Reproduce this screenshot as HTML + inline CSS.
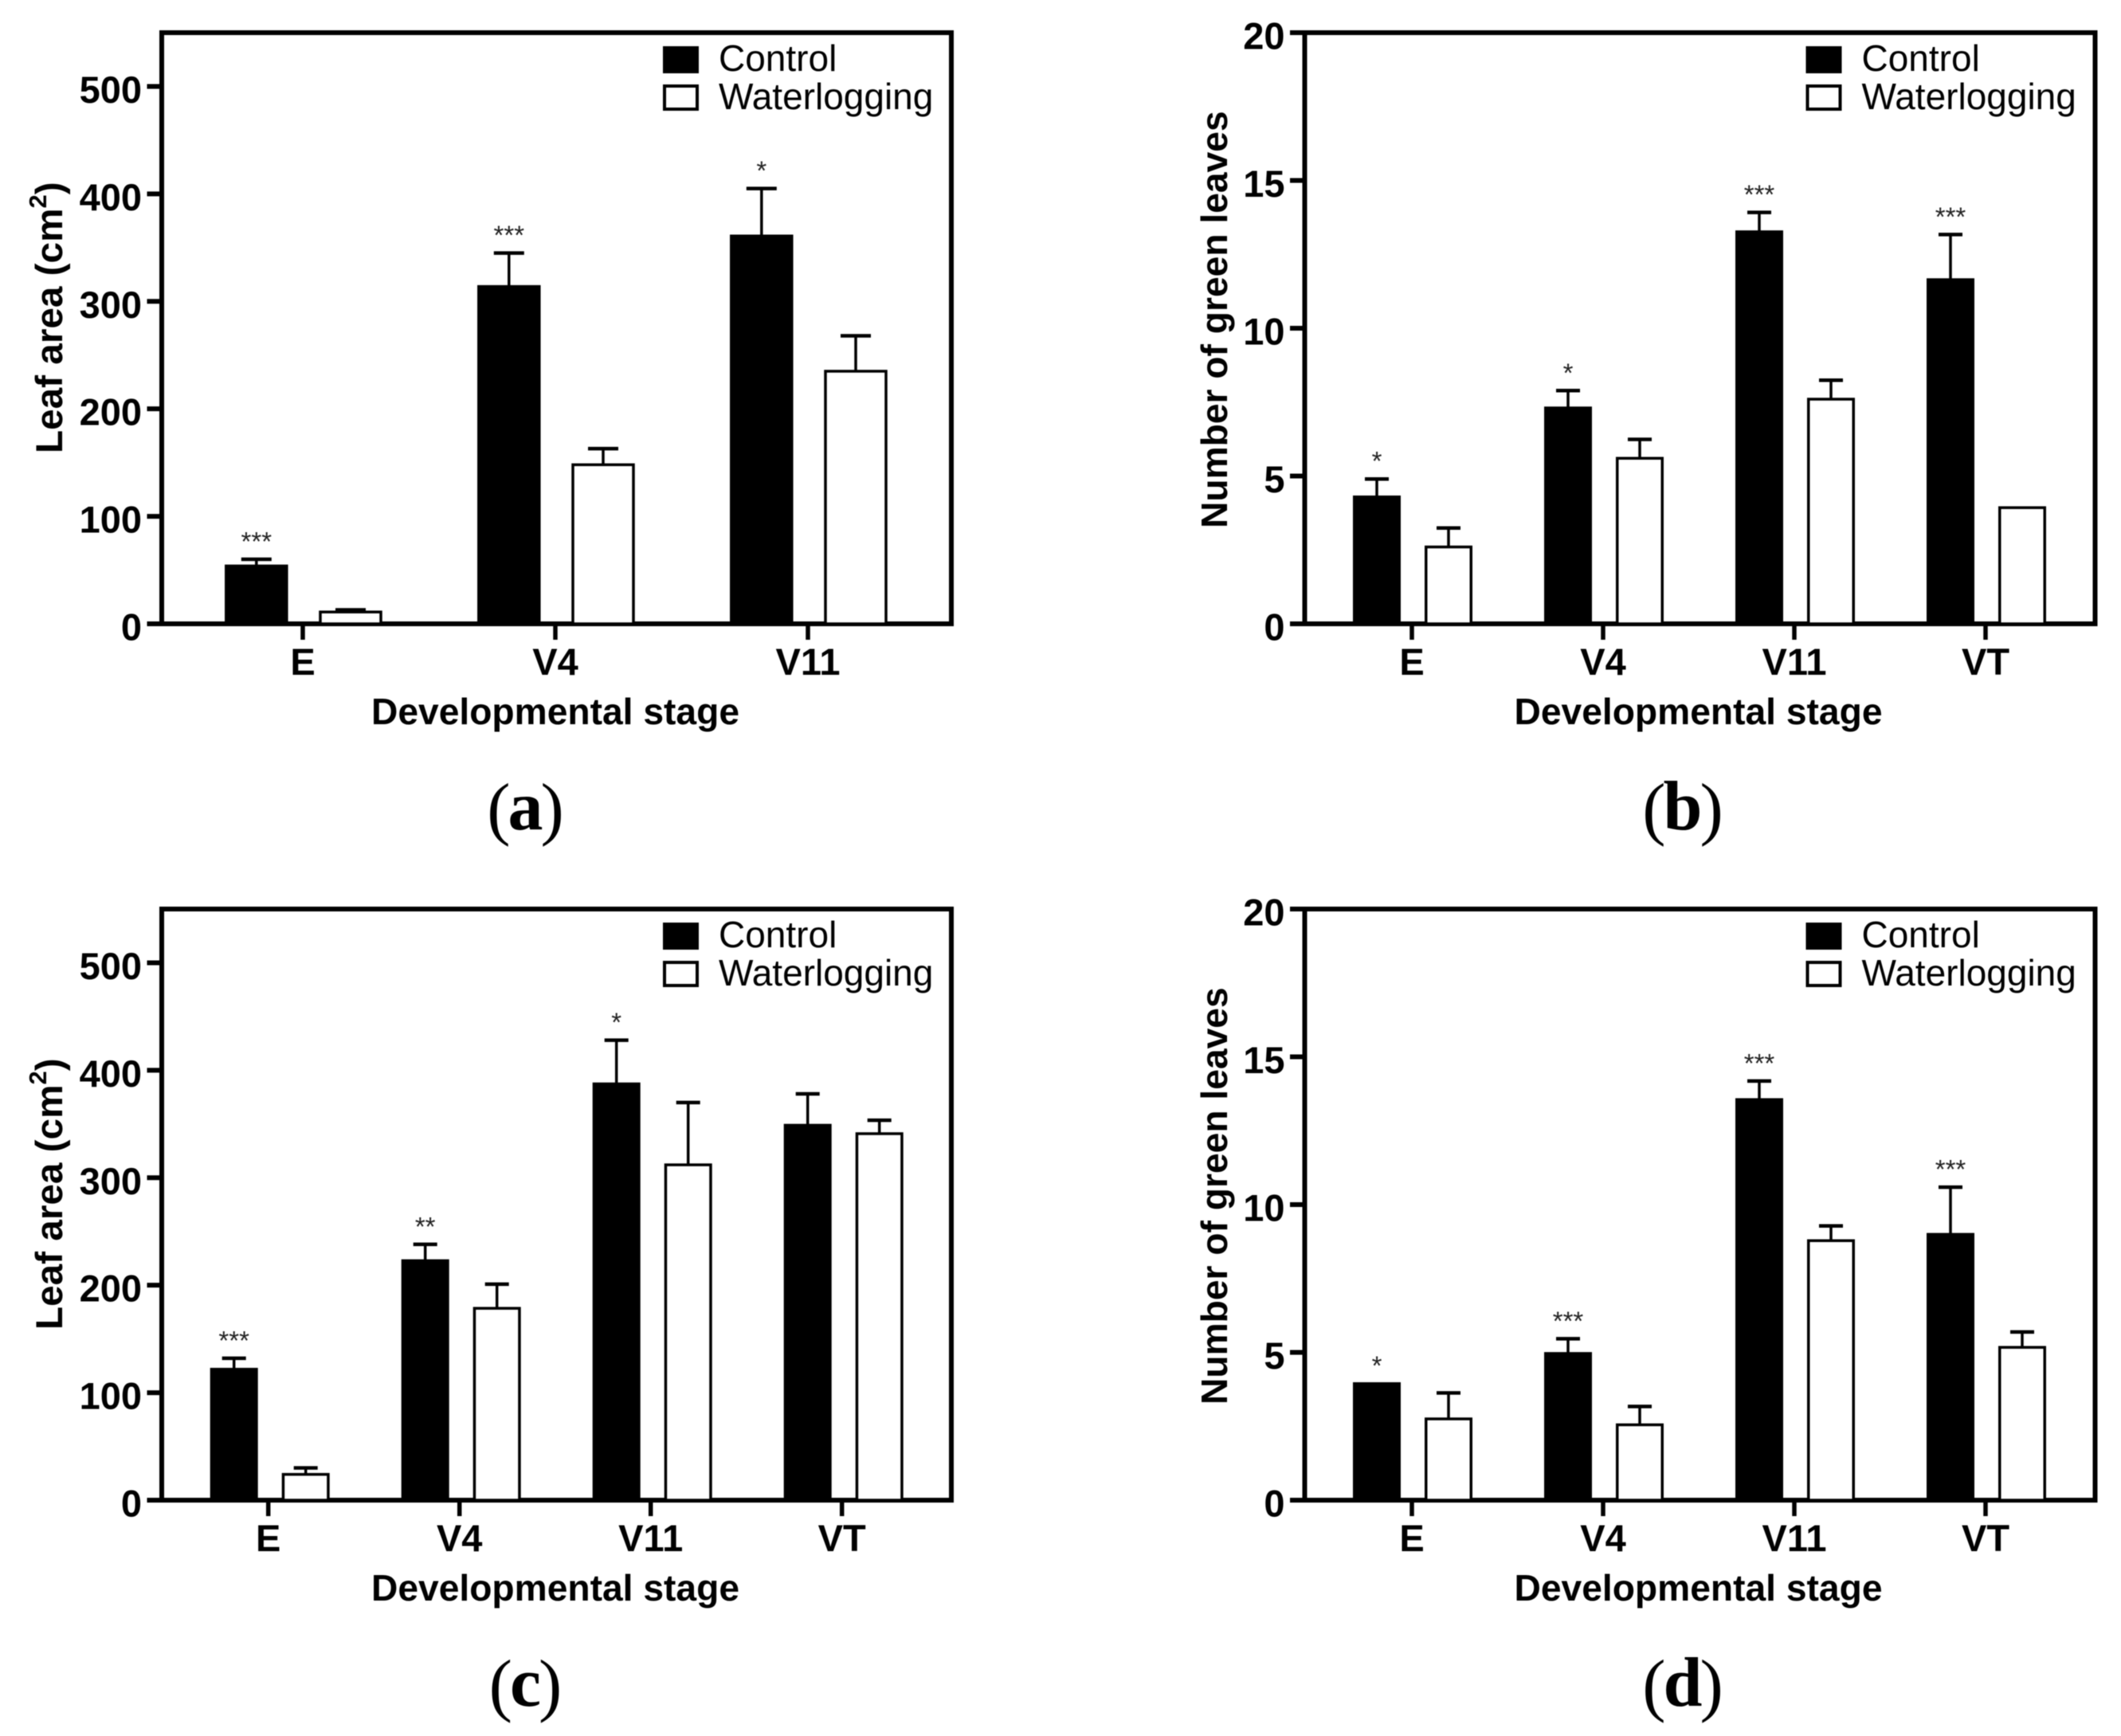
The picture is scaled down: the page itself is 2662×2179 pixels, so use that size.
<!DOCTYPE html>
<html lang="en">
<head>
<meta charset="utf-8">
<title>Leaf area and green leaves under waterlogging</title>
<style>
html,body{margin:0;padding:0;background:#fff;}
svg{display:block;filter:blur(0.6px);}
text{font-family:"Liberation Sans",sans-serif;fill:#000;}
.axis-title{font-weight:700;font-size:46.2px;}
.axis-title.area{font-size:47.7px;}
.tick-label{font-weight:700;font-size:47px;}
.legend-label{font-size:46px;}
.sub-label{font-family:"Liberation Serif",serif;font-size:88px;letter-spacing:-3px;}
.star{font-size:33px;fill:#222;}
</style>
</head>
<body>
<svg id="figure" xmlns="http://www.w3.org/2000/svg" width="2662" height="2179" viewBox="0 0 2662 2179">
  <rect width="2662" height="2179" fill="#fff"/>

  <g id="panel-a" transform="translate(0,0)">
    <rect x="203" y="41" width="991" height="742" fill="none" stroke="#000" stroke-width="6"/>
    <text class="axis-title area" transform="translate(78,569) rotate(-90)">Leaf area (cm<tspan dy="-20" font-size="31">2</tspan><tspan dy="20">)</tspan></text>
    <text class="axis-title" x="697" y="909" text-anchor="middle">Developmental stage</text>
    <g>
      <rect x="832" y="58" width="45" height="34" fill="#000"/>
      <text class="legend-label" x="902" y="89">Control</text>
      <rect x="834" y="108" width="41" height="29" fill="#fff" stroke="#000" stroke-width="4"/>
      <text class="legend-label" x="902" y="137">Waterlogging</text>
    </g>
    <text class="sub-label" x="658" y="1044" text-anchor="middle">(<tspan font-weight="700" dy="-3">a</tspan><tspan dy="3">)</tspan></text>
  </g>

  <g id="panel-b" transform="translate(1434.5,0)">
    <rect x="203" y="41" width="992" height="742" fill="none" stroke="#000" stroke-width="6"/>
    <text class="axis-title" transform="translate(105.5,663) rotate(-90)">Number of green leaves</text>
    <text class="axis-title" x="697" y="909" text-anchor="middle">Developmental stage</text>
    <g>
      <rect x="832" y="58" width="45" height="34" fill="#000"/>
      <text class="legend-label" x="902" y="89">Control</text>
      <rect x="834" y="108" width="41" height="29" fill="#fff" stroke="#000" stroke-width="4"/>
      <text class="legend-label" x="902" y="137">Waterlogging</text>
    </g>
    <text class="sub-label" x="676" y="1044" text-anchor="middle">(<tspan font-weight="700" dy="-3">b</tspan><tspan dy="3">)</tspan></text>
  </g>

  <g id="panel-c" transform="translate(0,1100)">
    <rect x="203" y="41" width="991" height="742" fill="none" stroke="#000" stroke-width="6"/>
    <text class="axis-title area" transform="translate(78,569) rotate(-90)">Leaf area (cm<tspan dy="-20" font-size="31">2</tspan><tspan dy="20">)</tspan></text>
    <text class="axis-title" x="697" y="909" text-anchor="middle">Developmental stage</text>
    <g>
      <rect x="832" y="58" width="45" height="34" fill="#000"/>
      <text class="legend-label" x="902" y="89">Control</text>
      <rect x="834" y="108" width="41" height="29" fill="#fff" stroke="#000" stroke-width="4"/>
      <text class="legend-label" x="902" y="137">Waterlogging</text>
    </g>
    <text class="sub-label" x="658" y="1044" text-anchor="middle">(<tspan font-weight="700" dy="-3">c</tspan><tspan dy="3">)</tspan></text>
  </g>

  <g id="panel-d" transform="translate(1434.5,1100)">
    <rect x="203" y="41" width="992" height="742" fill="none" stroke="#000" stroke-width="6"/>
    <text class="axis-title" transform="translate(105.5,663) rotate(-90)">Number of green leaves</text>
    <text class="axis-title" x="697" y="909" text-anchor="middle">Developmental stage</text>
    <g>
      <rect x="832" y="58" width="45" height="34" fill="#000"/>
      <text class="legend-label" x="902" y="89">Control</text>
      <rect x="834" y="108" width="41" height="29" fill="#fff" stroke="#000" stroke-width="4"/>
      <text class="legend-label" x="902" y="137">Waterlogging</text>
    </g>
    <text class="sub-label" x="676" y="1044" text-anchor="middle">(<tspan font-weight="700" dy="-3">d</tspan><tspan dy="3">)</tspan></text>
  </g>
</svg>

<script>
// Shared tick labels
const areaTicks = [0, 100, 200, 300, 400, 500];
const leafTicks = [0, 5, 10, 15, 20];

// Panel a: leaf area
const aCategories = ['E', 'V4', 'V11'];
const aControl = [54, 314, 361];
const aControlErr = [6, 31, 44];
const aWater = [11, 148, 235];
const aWaterErr = [2, 15, 33];
const aStars = ['***', '***', '*'];

// Panel b: number of green leaves
const bCategories = ['E', 'V4', 'V11', 'VT'];
const bControl = [4.3, 7.31, 13.27, 11.65];
const bControlErr = [0.6, 0.58, 0.65, 1.52];
const bWater = [2.6, 5.6, 7.6, 3.93];
const bWaterErr = [0.64, 0.64, 0.64, 0];
const bStars = ['*', '*', '***', '***'];

// Panel c: leaf area
const cCategories = ['E', 'V4', 'V11', 'VT'];
const cControl = [122, 223, 387.5, 349];
const cControlErr = [10, 15, 40.5, 29];
const cWater = [24, 178.5, 312, 341];
const cWaterErr = [6, 22.5, 58, 12.5];
const cStars = ['***', '**', '*', ''];

// Panel d: number of green leaves
const dCategories = ['E', 'V4', 'V11', 'VT'];
const dControl = [3.95, 4.97, 13.56, 9.0];
const dControlErr = [0, 0.49, 0.62, 1.59];
const dWater = [2.75, 2.55, 8.78, 5.17];
const dWaterErr = [0.88, 0.62, 0.5, 0.52];
const dStars = ['*', '***', '***', '***'];

const NS = 'http://www.w3.org/2000/svg';
const plotBottom = 783;
const plotTop = 41;

function svgEl(tag, parent) {
  const el = document.createElementNS(NS, tag);
  parent.appendChild(el);
  return el;
}
function yScale(max) {
  return function (v) { return plotBottom - (v / max) * (plotBottom - plotTop); };
}
function xScale(first, step) {
  return function (i) { return first + i * step; };
}

function drawSeries(g, kind, cats, values, errs, x, y, offset, width, capHalf) {
  values.forEach(function (v, i) {
    const cx = x(i) + offset;
    const top = y(v);
    const errTop = y(v + errs[i]);
    if (errs[i] > 0) {
      const stem = svgEl('line', g);
      
      
      stem.setAttribute('x1', cx);
      stem.setAttribute('x2', cx);
      stem.setAttribute('y1', top);
      stem.setAttribute('y2', errTop);
      stem.setAttribute('stroke', '#000');
      stem.setAttribute('stroke-width', 3.5);
      const cap = svgEl('line', g);
      
      
      cap.setAttribute('x1', cx - capHalf);
      cap.setAttribute('x2', cx + capHalf);
      cap.setAttribute('y1', errTop);
      cap.setAttribute('y2', errTop);
      cap.setAttribute('stroke', '#000');
      cap.setAttribute('stroke-width', 4.5);
    }
    const bar = svgEl('rect', g);
    
    
    if (kind === 'control') {
      bar.setAttribute('x', cx - width / 2);
      bar.setAttribute('y', top - 1.5);
      bar.setAttribute('width', width);
      bar.setAttribute('height', plotBottom - top + 1.5);
      bar.setAttribute('fill', '#000');
    } else {
      bar.setAttribute('x', cx - width / 2 + 1.75);
      bar.setAttribute('y', top);
      bar.setAttribute('width', width - 3.5);
      bar.setAttribute('height', plotBottom - top);
      bar.setAttribute('fill', '#fff');
      bar.setAttribute('stroke', '#000');
      bar.setAttribute('stroke-width', 3.5);
    }
  });
}

function drawPanel(id, yMax, yTicks, firstTick, step, cats, control, controlErr, water, waterErr, stars, offsets, width, capHalf) {
  const g = document.getElementById(id);
  const y = yScale(yMax);
  const x = xScale(firstTick, step);

  yTicks.forEach(function (t) {
    const tick = svgEl('line', g);
    
    
    tick.setAttribute('x1', 184.5);
    tick.setAttribute('x2', 203);
    tick.setAttribute('y1', y(t));
    tick.setAttribute('y2', y(t));
    tick.setAttribute('stroke', '#000');
    tick.setAttribute('stroke-width', 6);
    const label = svgEl('text', g);
    
    
    label.setAttribute('class', 'tick-label');
    label.setAttribute('x', 178);
    label.setAttribute('y', y(t) + 20.5);
    label.setAttribute('text-anchor', 'end');
    label.textContent = String(t);
  });

  cats.forEach(function (c, i) {
    const tick = svgEl('line', g);
    
    
    tick.setAttribute('x1', x(i));
    tick.setAttribute('x2', x(i));
    tick.setAttribute('y1', plotBottom);
    tick.setAttribute('y2', plotBottom + 20);
    tick.setAttribute('stroke', '#000');
    tick.setAttribute('stroke-width', 5.5);
    const label = svgEl('text', g);
    
    
    label.setAttribute('class', 'tick-label');
    label.setAttribute('x', x(i));
    label.setAttribute('y', 847);
    label.setAttribute('text-anchor', 'middle');
    label.textContent = c;
  });

  drawSeries(g, 'control', cats, control, controlErr, x, y, offsets[0], width, capHalf);
  drawSeries(g, 'waterlogging', cats, water, waterErr, x, y, offsets[1], width, capHalf);

  stars.forEach(function (s, i) {
    if (!s) { return; }
    const star = svgEl('text', g);
    
    
    star.setAttribute('class', 'star');
    star.setAttribute('x', x(i) + offsets[0]);
    star.setAttribute('y', y(control[i] + controlErr[i]) - 11);
    star.setAttribute('text-anchor', 'middle');
    star.textContent = s;
  });
}

drawPanel('panel-a', 550, areaTicks, 380, 317, aCategories, aControl, aControlErr, aWater, aWaterErr, aStars, [-58.2, 60], 79.5, 19);
drawPanel('panel-b', 20, leafTicks, 337.5, 240, bCategories, bControl, bControlErr, bWater, bWaterErr, bStars, [-44, 46], 60, 15);
drawPanel('panel-c', 550, areaTicks, 336.7, 240, cCategories, cControl, cControlErr, cWater, cWaterErr, cStars, [-43, 47], 60, 15);
drawPanel('panel-d', 20, leafTicks, 337.5, 240, dCategories, dControl, dControlErr, dWater, dWaterErr, dStars, [-44, 46], 60, 15);
</script>
</body>
</html>
